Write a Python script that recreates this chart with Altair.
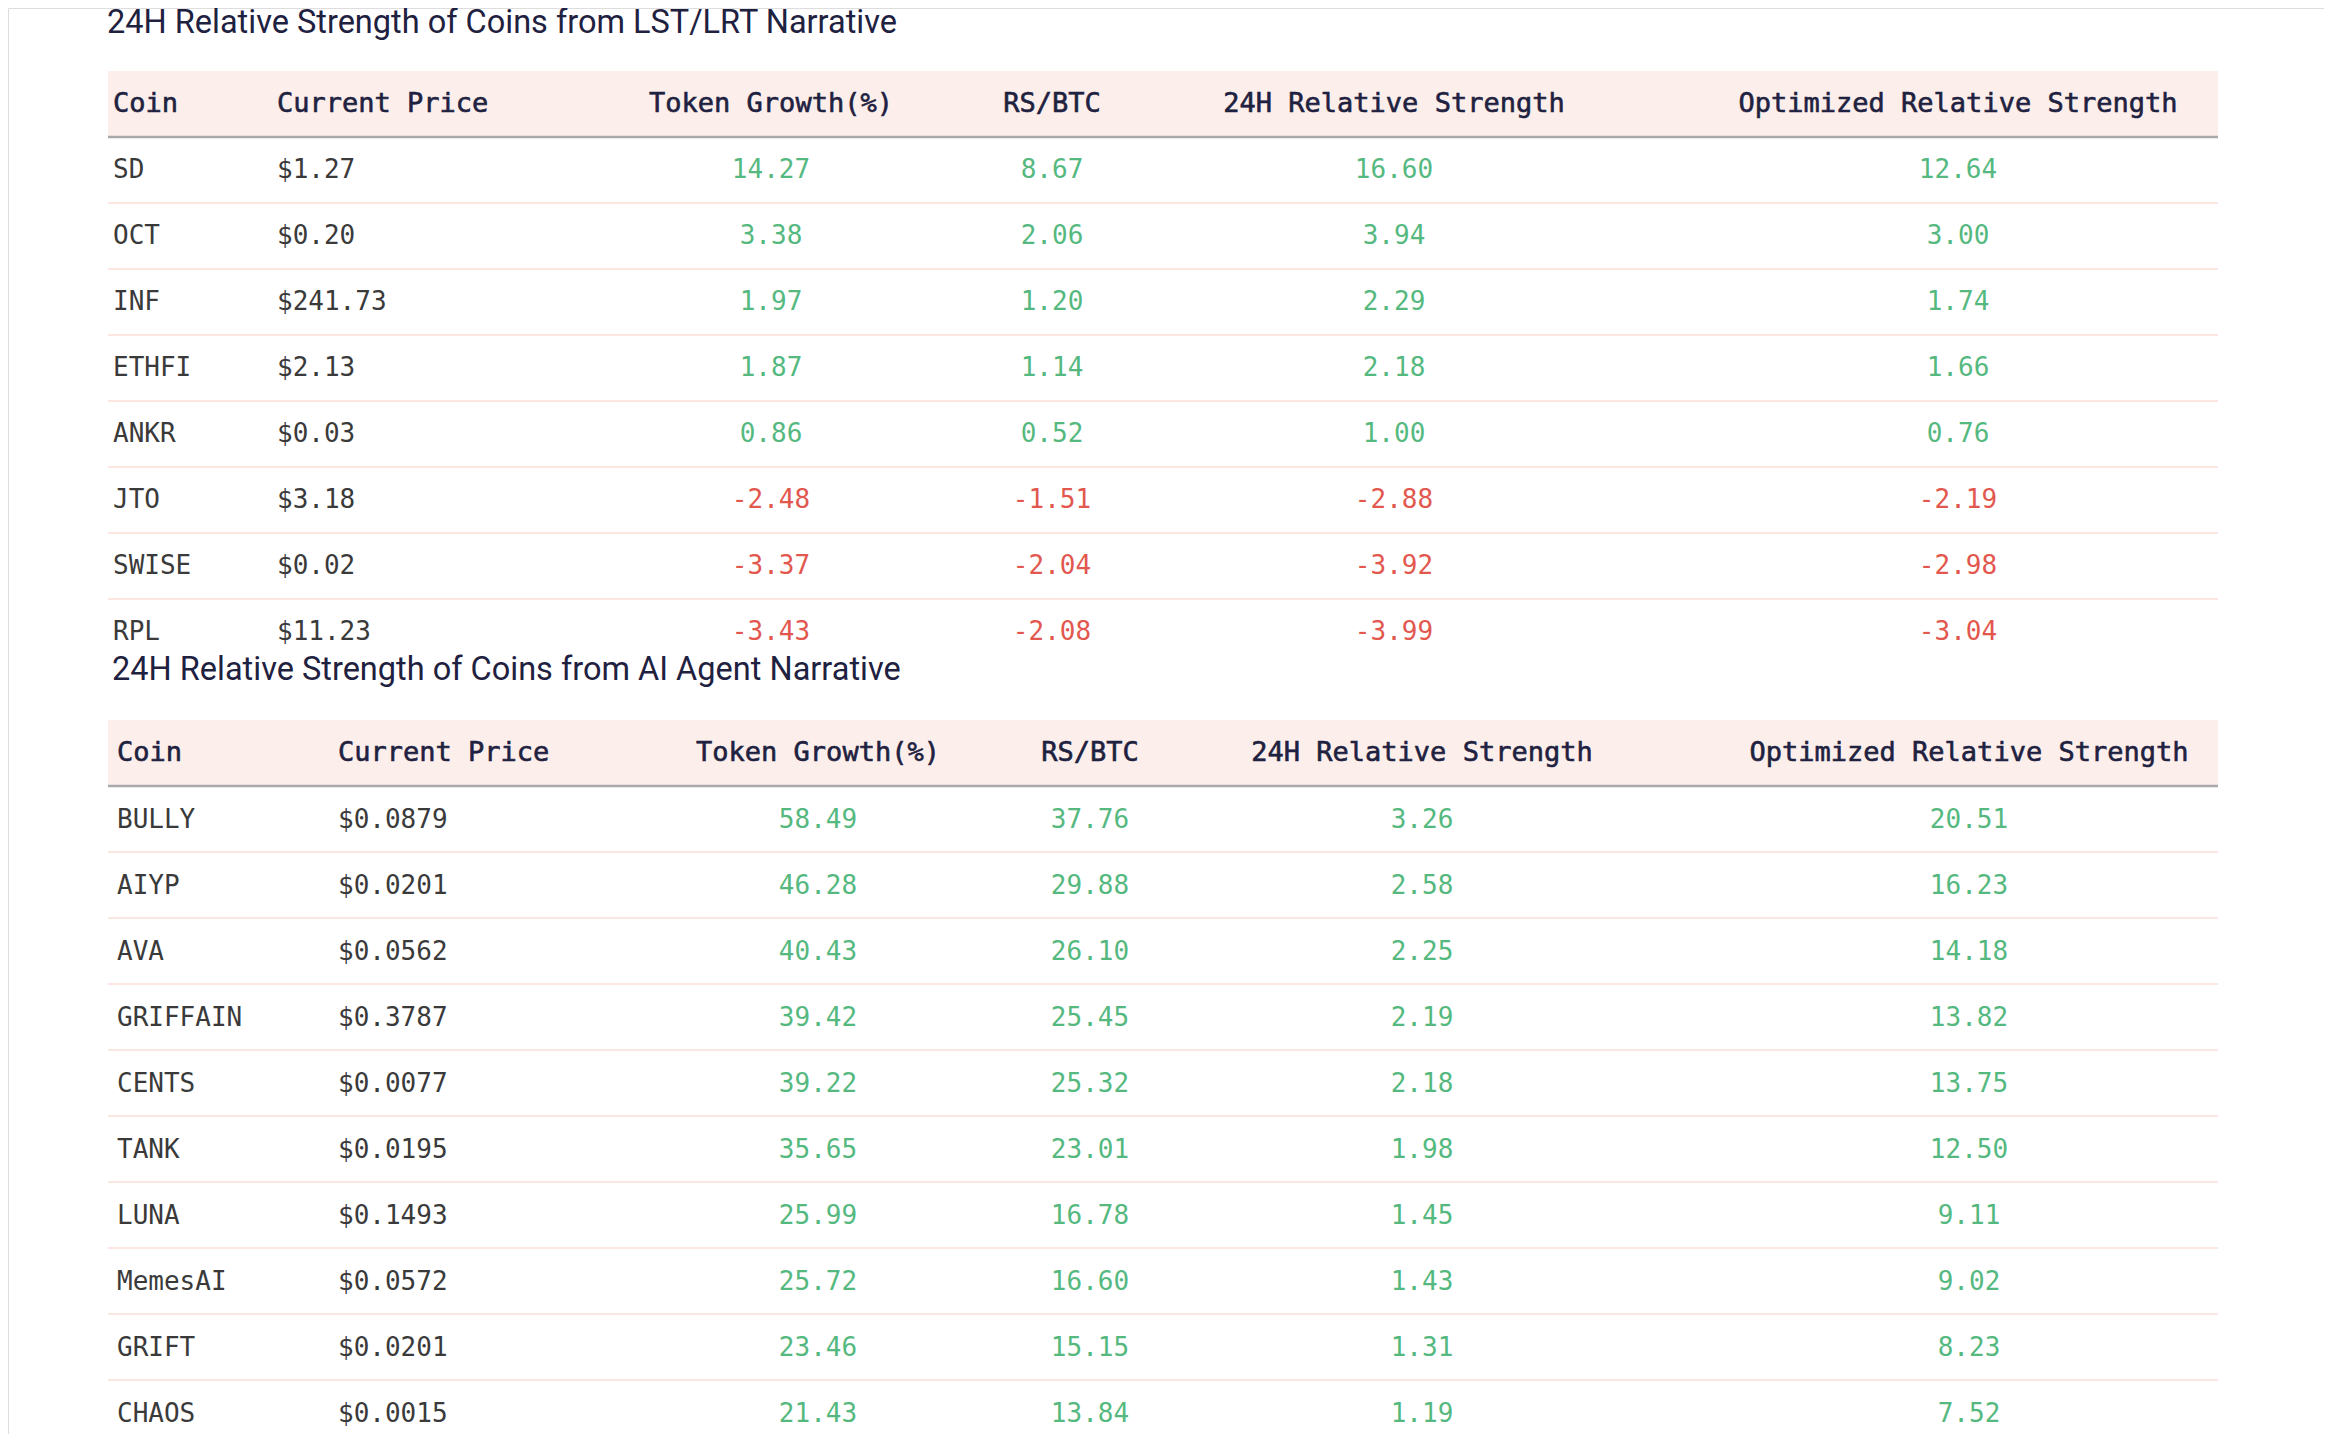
import altair as alt
import pandas as pd

# ---------------- data ----------------
TITLE_LST = "24H Relative Strength of Coins from LST/LRT Narrative"
TITLE_AI = "24H Relative Strength of Coins from AI Agent Narrative"
HEADERS = ["Coin", "Current Price", "Token Growth(%)", "RS/BTC",
           "24H Relative Strength", "Optimized Relative Strength"]

LST_COINS = ["SD", "OCT", "INF", "ETHFI", "ANKR", "JTO", "SWISE", "RPL"]
LST_PRICE = ["$1.27", "$0.20", "$241.73", "$2.13", "$0.03", "$3.18", "$0.02", "$11.23"]
LST_GROWTH = [14.27, 3.38, 1.97, 1.87, 0.86, -2.48, -3.37, -3.43]
LST_RSBTC = [8.67, 2.06, 1.20, 1.14, 0.52, -1.51, -2.04, -2.08]
LST_RS24 = [16.60, 3.94, 2.29, 2.18, 1.00, -2.88, -3.92, -3.99]
LST_OPT = [12.64, 3.00, 1.74, 1.66, 0.76, -2.19, -2.98, -3.04]

AI_COINS = ["BULLY", "AIYP", "AVA", "GRIFFAIN", "CENTS", "TANK", "LUNA",
            "MemesAI", "GRIFT", "CHAOS"]
AI_PRICE = ["$0.0879", "$0.0201", "$0.0562", "$0.3787", "$0.0077", "$0.0195",
            "$0.1493", "$0.0572", "$0.0201", "$0.0015"]
AI_GROWTH = [58.49, 46.28, 40.43, 39.42, 39.22, 35.65, 25.99, 25.72, 23.46, 21.43]
AI_RSBTC = [37.76, 29.88, 26.10, 25.45, 25.32, 23.01, 16.78, 16.60, 15.15, 13.84]
AI_RS24 = [3.26, 2.58, 2.25, 2.19, 2.18, 1.98, 1.45, 1.43, 1.31, 1.19]
AI_OPT = [20.51, 16.23, 14.18, 13.82, 13.75, 12.50, 9.11, 9.02, 8.23, 7.52]

# ---------------- style ----------------
MONO = "DejaVu Sans Mono"
SANS = "Roboto"
HEAD_BG = "#fcefeb"
SEP = "#fbe6e1"
HEAD_LINE = "#a9a9a9"
HEAD_TXT = "#1f2140"
BODY_TXT = "#3a3a3a"
GREEN = "#55b97f"
RED = "#e2574e"
FS = 26
HFS = 27
ROW_H = 66
LEFT, RIGHT = 100, 2210


def build_table(title, coins, prices, cols, col_x, aligns, top, title_x, title_y, body_dy):
    n = len(coins)
    recs = []
    for i in range(n):
        recs.append({"row": i + 1, "col": 0, "label": coins[i], "kind": "text"})
        recs.append({"row": i + 1, "col": 1, "label": prices[i], "kind": "text"})
        for c, series in enumerate(cols):
            v = series[i]
            recs.append({"row": i + 1, "col": c + 2, "label": f"{v:.2f}",
                         "kind": "neg" if v < 0 else "pos"})
    body = pd.DataFrame(recs)
    head = pd.DataFrame({"row": [0] * len(HEADERS), "col": list(range(len(HEADERS))),
                         "label": HEADERS})
    yscale = alt.Scale(domain=list(range(n + 1)),
                       range=[top, top + ROW_H * (n + 1)],
                       paddingInner=0, paddingOuter=0)

    def Y(**kw):
        return alt.Y("row:O", scale=yscale, axis=None, **kw)

    color = alt.Color("kind:N", legend=None,
                      scale=alt.Scale(domain=["text", "pos", "neg"],
                                      range=[BODY_TXT, GREEN, RED]))

    layers = []
    layers.append(alt.Chart(head.head(1)).mark_rect(color=HEAD_BG).encode(
        x=alt.value(LEFT), x2=alt.value(RIGHT), y=Y()))
    sep = pd.DataFrame({"row": list(range(2, n + 1))})
    layers.append(alt.Chart(sep).mark_rule(color=SEP, strokeWidth=2).encode(
        x=alt.value(LEFT), x2=alt.value(RIGHT), y=Y(bandPosition=0)))
    hl = pd.DataFrame({"row": [1]})
    layers.append(alt.Chart(hl).mark_rule(color=HEAD_LINE, strokeWidth=2.5).encode(
        x=alt.value(LEFT), x2=alt.value(RIGHT), y=Y(bandPosition=0)))
    for c in range(len(HEADERS)):
        layers.append(
            alt.Chart(head).transform_filter(alt.datum.col == c)
            .mark_text(font=MONO, fontSize=HFS, color=HEAD_TXT, stroke=HEAD_TXT,
                       strokeWidth=0.6, align=aligns[c], baseline="middle")
            .encode(x=alt.value(col_x[c]), y=Y(), text="label:N"))
        layers.append(
            alt.Chart(body).transform_filter(alt.datum.col == c)
            .mark_text(font=MONO, fontSize=FS, align=aligns[c], baseline="middle",
                       dy=body_dy)
            .encode(x=alt.value(col_x[c]), y=Y(), text="label:N", color=color))
    tdf = pd.DataFrame({"t": [title]})
    layers.append(alt.Chart(tdf).mark_text(font=SANS, fontSize=32.5, color=HEAD_TXT,
                                           align="left", baseline="middle")
                  .encode(x=alt.value(title_x), y=alt.value(title_y), text="t:N"))
    return alt.layer(*layers)


ALIGNS = ["left", "left", "center", "center", "center", "center"]
t1 = build_table(TITLE_LST, LST_COINS, LST_PRICE,
                 [LST_GROWTH, LST_RSBTC, LST_RS24, LST_OPT],
                 [105, 269, 763, 1044, 1386, 1950], ALIGNS, 63, 99, 15, 0)
t2 = build_table(TITLE_AI, AI_COINS, AI_PRICE,
                 [AI_GROWTH, AI_RSBTC, AI_RS24, AI_OPT],
                 [109, 330, 810, 1082, 1414, 1961], ALIGNS, 712, 104, 662, 1)

chart = (alt.layer(t1, t2)
         .resolve_scale(y="independent")
         .properties(width=2316, height=1426, padding=0,
                     autosize=alt.AutoSizeParams(type="none"))
         .configure_view(strokeWidth=0, stroke="transparent", strokeOpacity=0)
         .configure(background="white"))

chart.save("out.html", embed_options={"renderer": "svg", "actions": False})
